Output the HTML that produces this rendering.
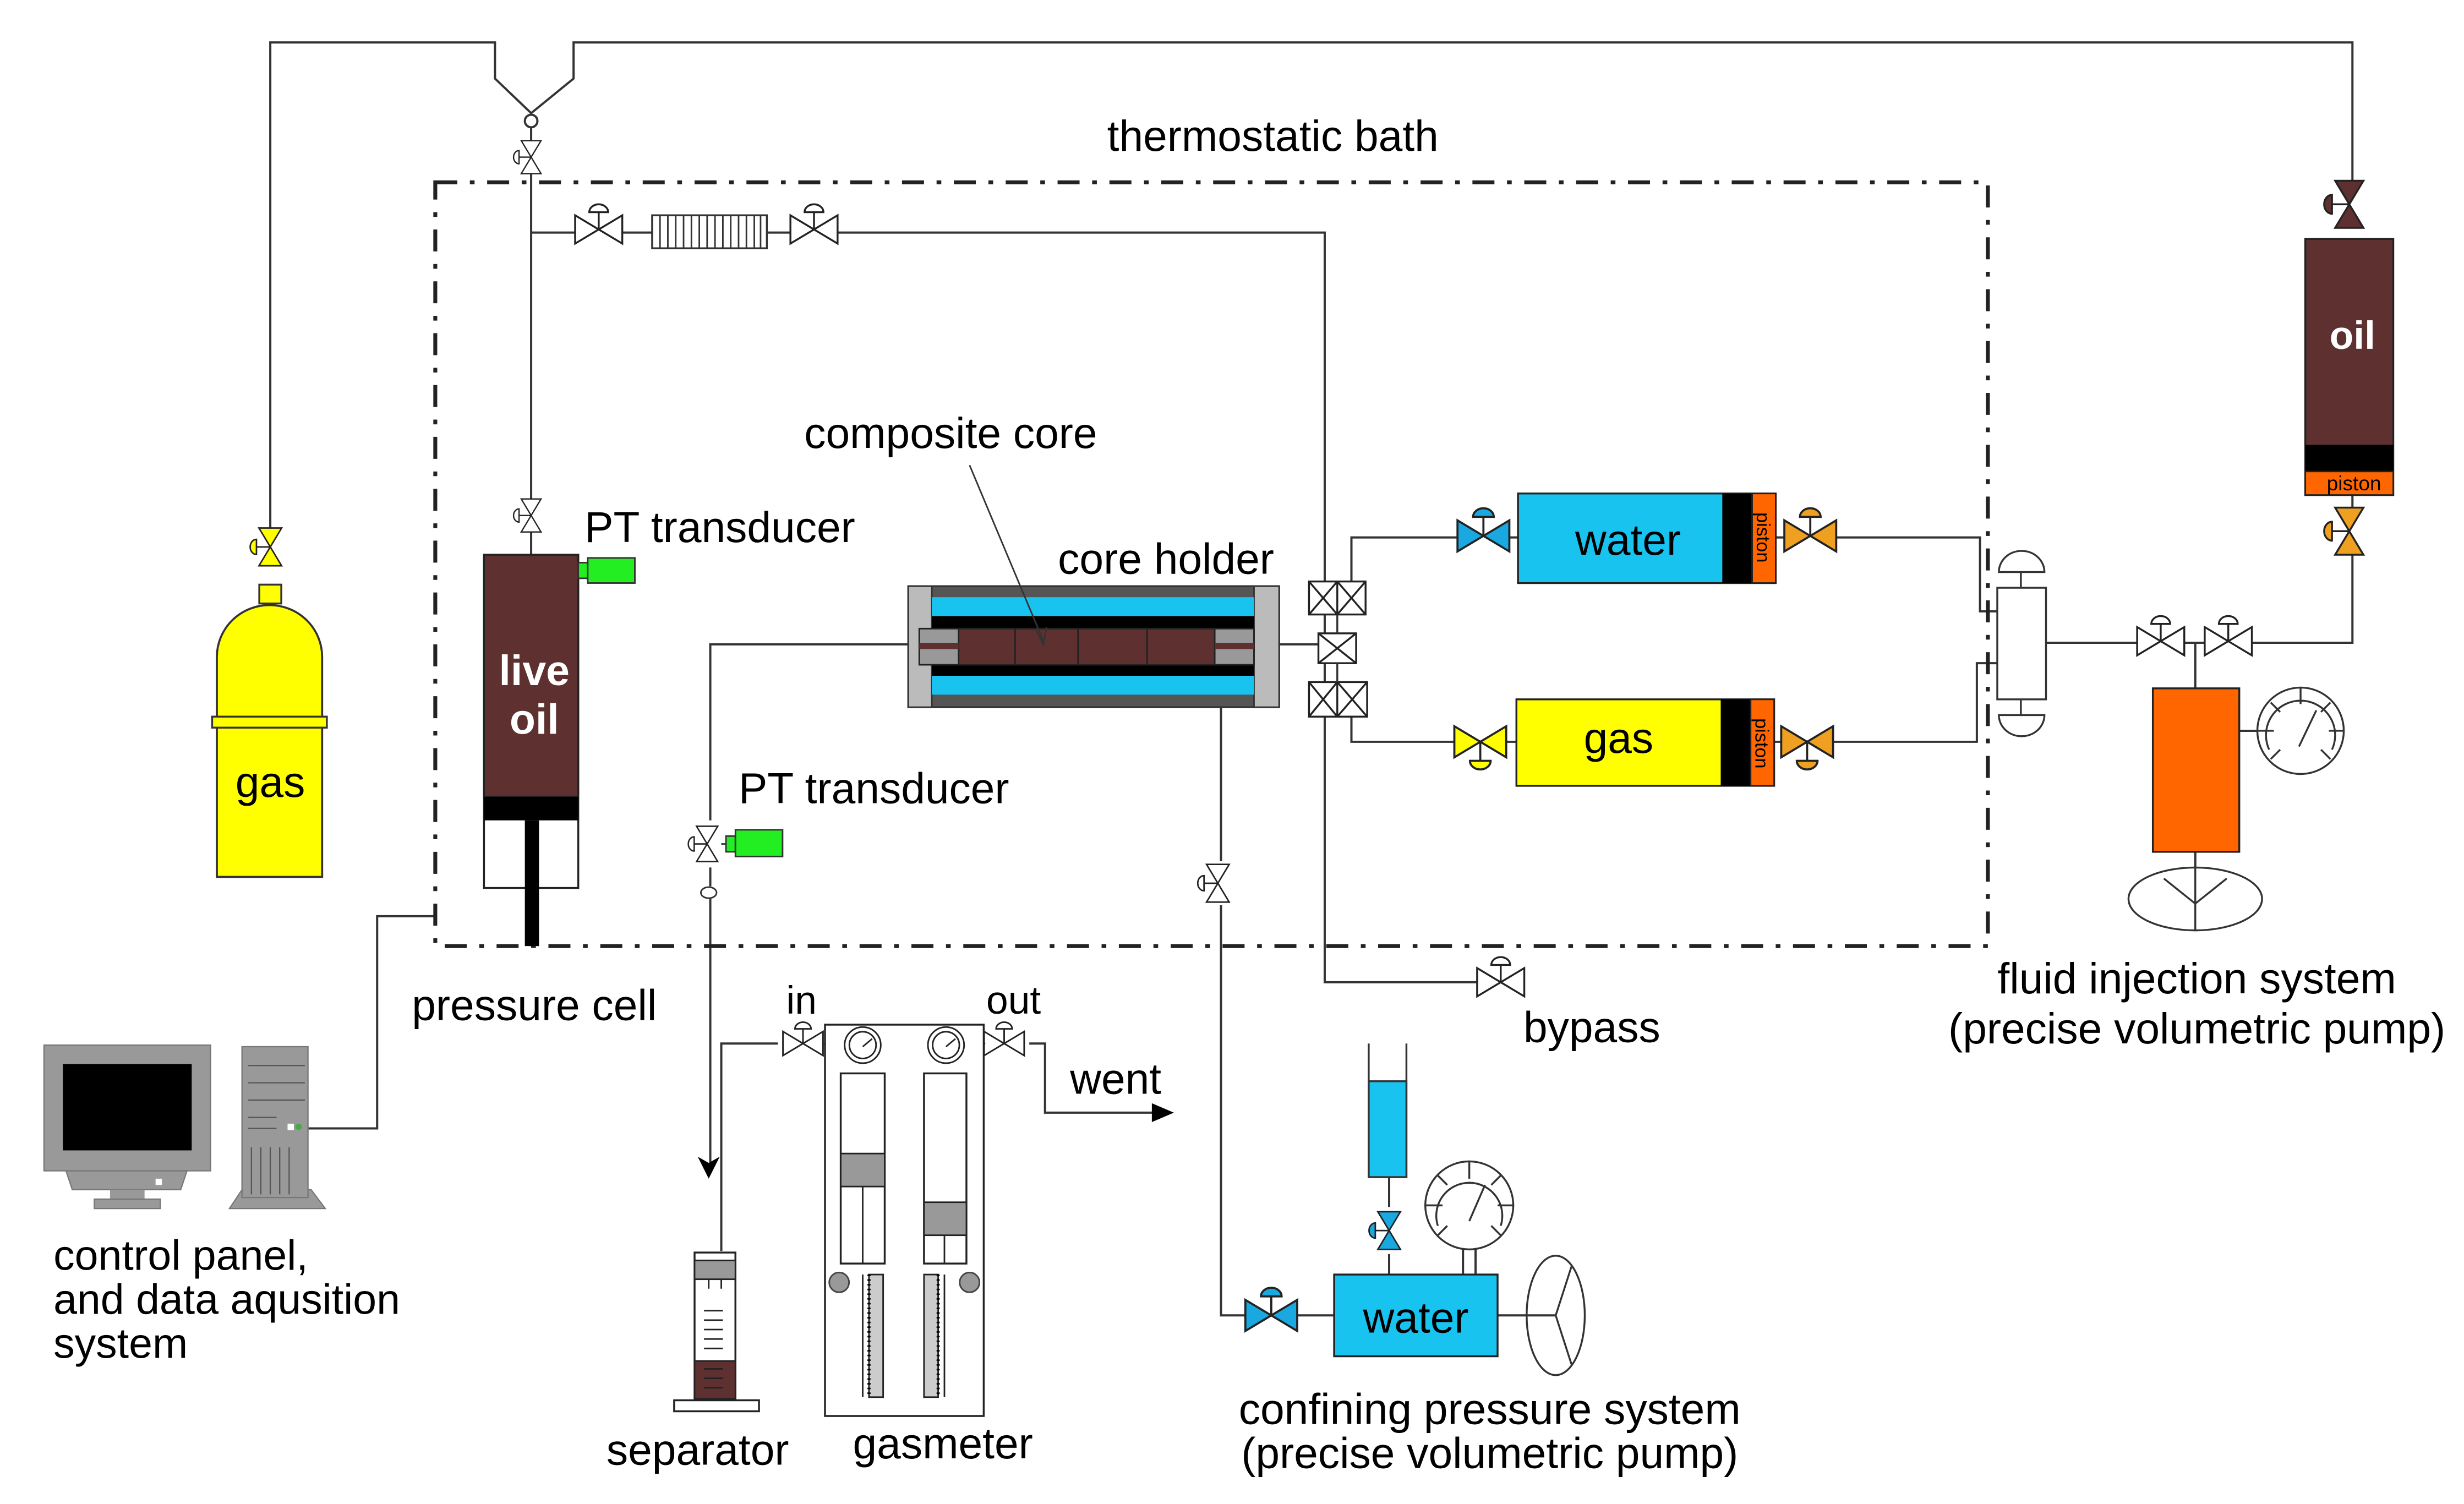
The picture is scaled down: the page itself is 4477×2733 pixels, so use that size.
<!DOCTYPE html>
<html><head><meta charset="utf-8"><style>
html,body{margin:0;padding:0;background:#fff}
svg{display:block}
text{font-family:"Liberation Sans",Arial,sans-serif;fill:#000}
</style></head><body>
<svg width="4477" height="2733" viewBox="0 0 1568 957" preserveAspectRatio="none" xmlns="http://www.w3.org/2000/svg">
<defs>
<g id="vh"><path d="M-15,-9V9L15,-9V9Z" stroke="#222" stroke-width="1.2"/><path d="M0,0V-11" stroke="#222" stroke-width="1.2"/><path d="M-6,-11A6,5 0 0 1 6,-11Z" stroke="#222" stroke-width="1.2"/></g>
</defs>
<rect width="1568" height="957" fill="#fff"/>
<g fill="none" stroke="#333" stroke-width="1.4">
<path d="M172,340V27H315V50L338,72L365,50V27H1497V118"/>
<circle cx="338" cy="77" r="4" fill="#fff"/>
<path d="M338,81V90M338,110V318M338,338V353"/>
<path d="M338,148H366M396,148H415M488,148H503M533,148H843V625H940"/>
<path d="M578,410H452V522M452,552V564M452,572V740"/>
<path d="M459,796V664H495"/>
<path d="M655,664H665V708H735"/>
<path d="M814,410H839"/>
<path d="M860,370V342H929M959,342H966"/>
<path d="M860,456V472H927M957,472H965"/>
<path d="M1130,342H1137M1167,342H1260V389H1271"/>
<path d="M1129,472H1135M1165,472H1258V422H1271"/>
<path d="M1302,409H1360M1390,409H1403M1433,409H1497V352M1497,326V315"/>
<path d="M1397,409V438M1397,542V552"/>
<path d="M1425,465H1437"/>
<path d="M777,450V548M777,576V837H794M824,837H849"/>
<path d="M884,749V768M884,798V811"/>
<path d="M953,837H990"/>
<path d="M931,795V811M939,795V811"/>
<path d="M196,718H240V583H277"/>
</g>
<rect x="277" y="116" width="988" height="486" fill="none" stroke="#222" stroke-width="2.5" stroke-dasharray="14 8 3 8"/>
<text x="810" y="96" font-size="27.5" text-anchor="middle">thermostatic bath</text>

<path d="M138,558V418A33.5,33 0 0 1 205,418V558Z" fill="#ffff00" stroke="#333" stroke-width="1.3"/>
<rect x="135" y="456" width="73" height="7" fill="#ffff00" stroke="#333" stroke-width="1.2"/>
<rect x="165" y="372" width="14" height="12" fill="#ffff00" stroke="#333" stroke-width="1.2"/>
<use href="#vh" transform="translate(172,348) rotate(-90) scale(0.8)" fill="#ffff00"/>
<text x="172" y="507" font-size="27.5" text-anchor="middle">gas</text>

<use href="#vh" transform="translate(338,100) rotate(-90) scale(0.7)" fill="#fff"/>
<use href="#vh" transform="translate(338,328) rotate(-90) scale(0.7)" fill="#fff"/>
<use href="#vh" transform="translate(381,146)" fill="#fff"/>
<use href="#vh" transform="translate(518,146)" fill="#fff"/>
<rect x="415" y="137" width="73" height="21" fill="#fff" stroke="#333" stroke-width="1.2"/>
<path d="M420,137V158M425,137V158M430,137V158M435,137V158M440,137V158M445,137V158M450,137V158M455,137V158M460,137V158M465,137V158M470,137V158M475,137V158M480,137V158M484,137V158" stroke="#333" stroke-width="1"/>

<rect x="308" y="353" width="60" height="212" fill="#fff" stroke="#222" stroke-width="1.2"/>
<rect x="308" y="353" width="60" height="154" fill="#5e3030" stroke="#222" stroke-width="1.2"/>
<rect x="308" y="507" width="60" height="15" fill="#000"/>
<rect x="334" y="522" width="9" height="80" fill="#000"/>
<text x="340" y="436" font-size="27" font-weight="bold" text-anchor="middle" style="fill:#fff">live</text>
<text x="340" y="467" font-size="27" font-weight="bold" text-anchor="middle" style="fill:#fff">oil</text>
<path d="M368,358H374V368H368Z" fill="#22ee22" stroke="#333" stroke-width="1"/>
<rect x="374" y="355" width="30" height="16" fill="#22ee22" stroke="#333" stroke-width="1"/>
<text x="372" y="345" font-size="27.5">PT transducer</text>
<text x="340" y="649" font-size="27.5" text-anchor="middle">pressure cell</text>

<use href="#vh" transform="translate(450,537) rotate(-90) scale(0.75)" fill="#fff"/>
<path d="M459,537H468" stroke="#333"/>
<path d="M462,532H468V542H462Z" fill="#22ee22" stroke="#333" stroke-width="1"/>
<rect x="468" y="528" width="30" height="17" fill="#22ee22" stroke="#333" stroke-width="1"/>
<ellipse cx="451" cy="568" rx="5" ry="3.5" fill="#fff" stroke="#333"/>
<text x="470" y="511" font-size="27.5">PT transducer</text>
<path d="M444,736L451,750L458,736L451,740Z" fill="#000"/>

<rect x="578" y="373" width="236" height="77" fill="#555" stroke="#333" stroke-width="1.2"/>
<rect x="578" y="373" width="15" height="77" fill="#bbb" stroke="#333" stroke-width="1"/>
<rect x="798" y="373" width="16" height="77" fill="#bbb" stroke="#333" stroke-width="1"/>
<rect x="593" y="380" width="205" height="12" fill="#19c3f0"/>
<rect x="593" y="430" width="205" height="12" fill="#19c3f0"/>
<rect x="593" y="392" width="205" height="8" fill="#000"/>
<rect x="593" y="423" width="205" height="7" fill="#000"/>
<rect x="585" y="400" width="213" height="23" fill="#999" stroke="#222" stroke-width="1"/>
<rect x="610" y="400" width="163" height="23" fill="#5e3030" stroke="#222" stroke-width="1"/>
<path d="M646,400V423M686,400V423M730,400V423" stroke="#222" stroke-width="1"/>
<rect x="585" y="409" width="25" height="4" fill="#5e3030"/>
<rect x="773" y="409" width="25" height="4" fill="#5e3030"/>
<text x="742" y="365" font-size="27.5" text-anchor="middle">core holder</text>
<text x="605" y="285" font-size="27.5" text-anchor="middle">composite core</text>
<path d="M617,296L664,408" stroke="#333" stroke-width="1"/>
<path d="M659,400L664,410L666,399" fill="none" stroke="#333" stroke-width="1"/>

<g fill="#fff" stroke="#222" stroke-width="1.2">
<rect x="833" y="370" width="36" height="21"/>
<path d="M851,370V391M833,370L851,391M851,370L833,391M851,370L869,391M869,370L851,391"/>
<rect x="839" y="403" width="24" height="19"/>
<path d="M839,403L863,422M863,403L839,422"/>
<rect x="833" y="434" width="37" height="22"/>
<path d="M851,434V456M833,434L851,456M851,434L833,456M851,434L870,456M870,434L851,456"/>
</g>
<path d="M851,391V403M851,422V434" stroke="#333" stroke-width="1.2"/>

<use href="#vh" transform="translate(944,341) scale(1.1)" fill="#19a8e0"/>
<rect x="966" y="314" width="164" height="57" fill="#19c3f0" stroke="#222" stroke-width="1.2"/>
<rect x="1096" y="314" width="19" height="57" fill="#000"/>
<rect x="1115" y="314" width="15" height="57" fill="#ff6600" stroke="#222" stroke-width="1"/>
<text x="1036" y="353" font-size="27.5" text-anchor="middle">water</text>
<text transform="translate(1118,342) rotate(90)" font-size="12" text-anchor="middle">piston</text>
<use href="#vh" transform="translate(1152,341) scale(1.1)" fill="#f0a020"/>

<use href="#vh" transform="translate(942,472) scale(1.1,-1.1)" fill="#ffff00"/>
<rect x="965" y="445" width="164" height="55" fill="#ffff00" stroke="#222" stroke-width="1.2"/>
<rect x="1095" y="445" width="19" height="55" fill="#000"/>
<rect x="1114" y="445" width="15" height="55" fill="#ff6600" stroke="#222" stroke-width="1"/>
<text x="1030" y="479" font-size="27.5" text-anchor="middle">gas</text>
<text transform="translate(1117,473) rotate(90)" font-size="12" text-anchor="middle">piston</text>
<use href="#vh" transform="translate(1150,472) scale(1.1,-1.1)" fill="#f0a020"/>

<rect x="1271" y="374" width="31" height="71" fill="#fff" stroke="#333" stroke-width="1.2"/>
<path d="M1286,374V364M1286,445V455" stroke="#333" stroke-width="1.2"/>
<path d="M1272,364A14,13 0 0 1 1301,364Z" fill="#fff" stroke="#333" stroke-width="1.2"/>
<path d="M1272,455A14,13 0 0 0 1301,455Z" fill="#fff" stroke="#333" stroke-width="1.2"/>
<use href="#vh" transform="translate(1375,408)" fill="#fff"/>
<use href="#vh" transform="translate(1418,408)" fill="#fff"/>

<use href="#vh" transform="translate(1495,130) rotate(-90)" fill="#5e3030"/>
<rect x="1467" y="152" width="56" height="163" fill="#5e3030" stroke="#222" stroke-width="1.2"/>
<rect x="1467" y="283" width="56" height="17" fill="#000"/>
<rect x="1467" y="300" width="56" height="15" fill="#ff6600" stroke="#222" stroke-width="1"/>
<text x="1497" y="222" font-size="25" font-weight="bold" text-anchor="middle" style="fill:#fff">oil</text>
<text x="1498" y="312" font-size="13" text-anchor="middle">piston</text>
<use href="#vh" transform="translate(1495,338) rotate(-90)" fill="#f0a020"/>

<rect x="1370" y="438" width="55" height="104" fill="#ff6600" stroke="#222" stroke-width="1.2"/>
<g fill="none" stroke="#333" stroke-width="1.2">
<circle cx="1464" cy="465" r="27.5"/>
<path d="M1444,477A22,22 0 1 1 1484,477"/>
<path d="M1464,437V448M1437,465H1447M1482,465H1491M1445,447L1451,453M1483,447L1477,453M1445,483L1451,477M1483,483L1477,477M1463,475L1474,452"/>
<ellipse cx="1397" cy="572" rx="42.5" ry="20"/>
<path d="M1397,552V592M1397,575L1377,559M1397,575L1417,559"/>
</g>
<text x="1398" y="632" font-size="27.5" text-anchor="middle">fluid injection system</text>
<text x="1398" y="664" font-size="27.5" text-anchor="middle">(precise volumetric pump)</text>

<use href="#vh" transform="translate(955,625)" fill="#fff"/>
<text x="1013" y="663" font-size="27.5" text-anchor="middle">bypass</text>

<use href="#vh" transform="translate(775,562) rotate(-90) scale(0.8)" fill="#fff"/>
<use href="#vh" transform="translate(809,837) scale(1.1)" fill="#19a8e0"/>
<rect x="849" y="811" width="104" height="52" fill="#19c3f0" stroke="#222" stroke-width="1.2"/>
<text x="901" y="848" font-size="27.5" text-anchor="middle">water</text>
<path d="M871,664V749H895V664" fill="none" stroke="#333" stroke-width="1.2"/>
<rect x="871" y="688" width="24" height="61" fill="#19c3f0" stroke="#333" stroke-width="1.2"/>
<use href="#vh" transform="translate(884,783) rotate(-90) scale(0.8)" fill="#19a8e0"/>
<g fill="none" stroke="#333" stroke-width="1.2">
<circle cx="935" cy="767" r="28" fill="#fff"/>
<path d="M915,780A21,21 0 1 1 955,780"/>
<path d="M935,739V750M907,767H918M953,767H963M915,748L921,754M955,748L949,754M915,786L921,780M955,786L949,780M935,777L945,754"/>
<ellipse cx="990" cy="837" rx="18.5" ry="38"/>
<path d="M990,837L1000,806M990,837L1000,868"/>
</g>
<text x="948" y="906" font-size="27.5" text-anchor="middle">confining pressure system</text>
<text x="948" y="934" font-size="27.5" text-anchor="middle">(precise volumetric pump)</text>

<rect x="442" y="797" width="26" height="93" fill="#fff" stroke="#222" stroke-width="1.2"/>
<rect x="442" y="802" width="26" height="12" fill="#999" stroke="#222" stroke-width="1"/>
<rect x="442" y="866" width="26" height="24" fill="#5e3030" stroke="#222" stroke-width="1"/>
<path d="M448,834H460M448,840H460M448,846H460M448,852H460M448,858H460M448,871H460M448,877H460M448,883H460" stroke="#222" stroke-width="1"/>
<path d="M451,814V820M459,814V820" stroke="#222"/>
<rect x="429" y="891" width="54" height="7" fill="#fff" stroke="#222" stroke-width="1.2"/>
<text x="444" y="932" font-size="27.5" text-anchor="middle">separator</text>

<use href="#vh" transform="translate(511,664) scale(0.85)" fill="#fff"/>
<use href="#vh" transform="translate(639,664) scale(0.85)" fill="#fff"/>
<path d="M524,664H525M626,664H627" stroke="#333"/>
<rect x="525" y="652" width="101" height="249" fill="#fff" stroke="#222" stroke-width="1.2"/>
<g fill="none" stroke="#222" stroke-width="1">
<circle cx="549" cy="665" r="11.5"/><circle cx="549" cy="665" r="8.5"/><path d="M549,666L555,661"/>
<circle cx="602" cy="665" r="11.5"/><circle cx="602" cy="665" r="8.5"/><path d="M602,666L608,661"/>
</g>
<rect x="535" y="683" width="28" height="121" fill="#fff" stroke="#222" stroke-width="1.2"/>
<rect x="535" y="734" width="28" height="21" fill="#999" stroke="#222" stroke-width="1"/>
<path d="M549,755V804" stroke="#222"/>
<rect x="588" y="683" width="27" height="121" fill="#fff" stroke="#222" stroke-width="1.2"/>
<rect x="588" y="765" width="27" height="21" fill="#999" stroke="#222" stroke-width="1"/>
<path d="M601,786V804" stroke="#222"/>
<circle cx="534" cy="816" r="6.3" fill="#999" stroke="#444"/>
<circle cx="617" cy="816" r="6.3" fill="#999" stroke="#444"/>
<rect x="553" y="811" width="9" height="78" fill="#ccc" stroke="#222"/>
<rect x="588" y="811" width="9" height="78" fill="#ccc" stroke="#222"/>
<path d="M549,811V889M601,811V889" stroke="#222" stroke-width="1"/>
<path d="M553,811V889M597,811V889" stroke="#000" stroke-width="2" stroke-dasharray="1 2"/>
<text x="510" y="645" font-size="25" text-anchor="middle">in</text>
<text x="645" y="645" font-size="25" text-anchor="middle">out</text>
<text x="710" y="696" font-size="27.5" text-anchor="middle">went</text>
<path d="M733,702L747,708L733,714Z" fill="#000"/>
<text x="600" y="928" font-size="27.5" text-anchor="middle">gasmeter</text>

<rect x="28" y="665" width="106" height="80" fill="#999" stroke="#777" stroke-width="0.8"/>
<rect x="40" y="677" width="82" height="55" fill="#000"/>
<path d="M42,745H119L115,757H46Z" fill="#999" stroke="#777" stroke-width="0.8"/>
<rect x="99" y="750" width="4" height="4" fill="#fff"/>
<rect x="70" y="757" width="22" height="6" fill="#999"/>
<rect x="60" y="763" width="42" height="6" fill="#999" stroke="#777" stroke-width="0.8"/>
<path d="M154,757L146,769H207L198,757Z" fill="#999" stroke="#777" stroke-width="0.8"/>
<rect x="154" y="666" width="42" height="96" fill="#999" stroke="#777" stroke-width="0.8"/>
<path d="M158,678H194M158,689H194M158,700H194M158,711H176M158,718H176M160,730V760M166,730V760M172,730V760M178,730V760M184,730V760" stroke="#555" stroke-width="0.8"/>
<rect x="183" y="715" width="4" height="4" fill="#fff"/>
<circle cx="190" cy="717" r="2" fill="#4a4"/>
<text x="34" y="808" font-size="27">control panel,</text>
<text x="34" y="836" font-size="27">and data aqusition</text>
<text x="34" y="864" font-size="27">system</text>
</svg>
</body></html>
